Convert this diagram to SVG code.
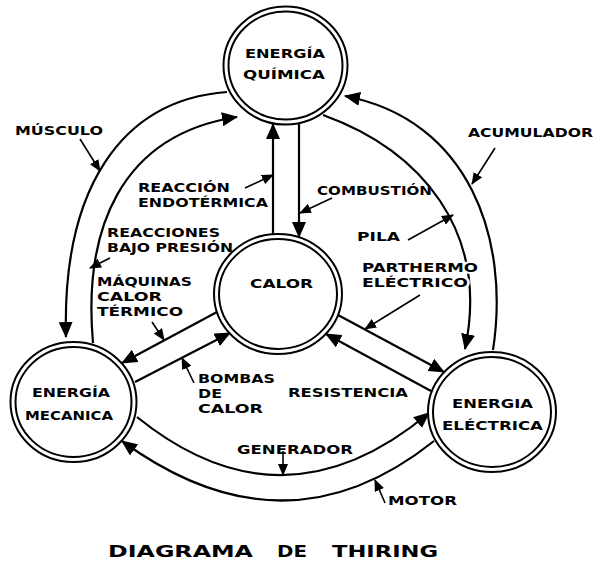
<svg xmlns="http://www.w3.org/2000/svg" width="595" height="562" viewBox="0 0 595 562">
<defs>
<style>
.bg{fill:#fff}
.ring{fill:#fff;stroke:#000;stroke-width:2}
.ln{fill:none;stroke:#000;stroke-width:2.2}
.lbl{fill:none;stroke:#000;stroke-width:1.6}
text{font-family:"DejaVu Sans","Liberation Sans",Arial,sans-serif;font-weight:bold;font-size:13px;fill:#000}
.title{font-size:16.5px}
.halo{paint-order:stroke;stroke:#fff;stroke-width:4px}
</style>
<marker id="ah" viewBox="0 0 16 14" refX="15" refY="7" markerWidth="16" markerHeight="14" markerUnits="userSpaceOnUse" orient="auto"><path d="M0,0 L16,7 L0,14 z" fill="#000"/></marker>
<marker id="as" viewBox="0 0 12 10" refX="11" refY="5" markerWidth="12" markerHeight="10" markerUnits="userSpaceOnUse" orient="auto"><path d="M0,0 L12,5 L0,10 z" fill="#000"/></marker>
</defs>
<rect class="bg" x="0" y="0" width="595" height="562"/>

<g id="connectors">
<path class="ln" d="M227,92 C120,100 62,190 66,337" marker-end="url(#ah)"/>
<path class="ln" d="M93,343 C83,230 120,135 237,117" marker-end="url(#ah)"/>
<path class="ln" d="M493,350 C510,240 470,120 345,96" marker-end="url(#ah)"/>
<path class="ln" d="M323,115 C420,150 490,230 465,349" marker-end="url(#ah)"/>
<path class="ln" d="M273,234 L273,124" marker-end="url(#ah)"/>
<path class="ln" d="M299,123 L299,237" marker-end="url(#ah)"/>
<path class="ln" d="M217,312 L122,363" marker-end="url(#ah)"/>
<path class="ln" d="M135,382 L230,333" marker-end="url(#ah)"/>
<path class="ln" d="M338,315 L444,372" marker-end="url(#ah)"/>
<path class="ln" d="M431,391 L326,334" marker-end="url(#ah)"/>
<path class="ln" d="M137,417 Q283,535 429,413" marker-end="url(#ah)"/>
<path class="ln" d="M434,441 Q285,560 122,441" marker-end="url(#ah)"/>

<path class="lbl" d="M80,139 L100,171" marker-end="url(#as)"/>
<path class="lbl" d="M495,148 L472,184" marker-end="url(#as)"/>
<path class="lbl" d="M245,188 L273,175" marker-end="url(#as)"/>
<path class="lbl" d="M332,198 L300,213" marker-end="url(#as)"/>
<path class="lbl" d="M110,258 L90,268" marker-end="url(#as)"/>
<path class="lbl" d="M408,240 L453,215" marker-end="url(#as)"/>
<path class="lbl" d="M420,295 L365,329" marker-end="url(#as)"/>
<path class="lbl" d="M152,322 L164,340" marker-end="url(#as)"/>
<path class="lbl" d="M194,383 L182,358" marker-end="url(#as)"/>
<path class="lbl" d="M283,451 L283,475" marker-end="url(#as)"/>
<path class="lbl" d="M385,503 L375,480" marker-end="url(#as)"/>
</g>

<g id="quimica">
<ellipse class="ring" cx="285.5" cy="65.5" rx="62" ry="59"/>
<ellipse class="ring" cx="285.5" cy="65.5" rx="57" ry="54"/>
<text x="245" y="58" textLength="80" lengthAdjust="spacingAndGlyphs">ENERGÍA</text>
<text x="243" y="79" textLength="82" lengthAdjust="spacingAndGlyphs">QUÍMICA</text>
</g>

<g id="calor">
<ellipse class="ring" cx="278" cy="294" rx="64" ry="60"/>
<ellipse class="ring" cx="278" cy="294" rx="59" ry="55"/>
<text x="250" y="288" textLength="63" lengthAdjust="spacingAndGlyphs">CALOR</text>
</g>

<g id="mecanica">
<ellipse class="ring" cx="73.5" cy="402" rx="63" ry="60"/>
<ellipse class="ring" cx="73.5" cy="402" rx="58" ry="55"/>
<text x="32" y="397" textLength="78" lengthAdjust="spacingAndGlyphs">ENERGÍA</text>
<text x="25" y="420" textLength="88" lengthAdjust="spacingAndGlyphs">MECANICA</text>
</g>

<g id="electrica">
<ellipse class="ring" cx="492" cy="412" rx="64" ry="60"/>
<ellipse class="ring" cx="492" cy="412" rx="59" ry="55"/>
<text x="452" y="408" textLength="81" lengthAdjust="spacingAndGlyphs">ENERGIA</text>
<text x="442" y="430" textLength="101" lengthAdjust="spacingAndGlyphs">ELÉCTRICA</text>
</g>

<g id="labels">
<text x="15" y="135" textLength="88" lengthAdjust="spacingAndGlyphs">MÚSCULO</text>
<text x="468" y="137" textLength="125" lengthAdjust="spacingAndGlyphs">ACUMULADOR</text>
<text x="138" y="192" textLength="92" lengthAdjust="spacingAndGlyphs">REACCIÓN</text>
<text x="138" y="207" textLength="130" lengthAdjust="spacingAndGlyphs">ENDOTÉRMICA</text>
<text x="317" y="195" textLength="115" lengthAdjust="spacingAndGlyphs">COMBUSTIÓN</text>
<text x="107" y="237" textLength="113" lengthAdjust="spacingAndGlyphs">REACCIONES</text>
<text x="107" y="252" textLength="126" lengthAdjust="spacingAndGlyphs">BAJO PRESIÓN</text>
<text x="357" y="241" textLength="43" lengthAdjust="spacingAndGlyphs">PILA</text>
<text class="halo" x="362" y="272" textLength="116" lengthAdjust="spacingAndGlyphs">PARTHERMO</text>
<text class="halo" x="362" y="287" textLength="106" lengthAdjust="spacingAndGlyphs">ELÉCTRICO</text>
<text x="97" y="286" textLength="95" lengthAdjust="spacingAndGlyphs">MÁQUINAS</text>
<text x="97" y="301" textLength="65" lengthAdjust="spacingAndGlyphs">CALOR</text>
<text x="97" y="316" textLength="86" lengthAdjust="spacingAndGlyphs">TÉRMICO</text>
<text x="198" y="383" textLength="77" lengthAdjust="spacingAndGlyphs">BOMBAS</text>
<text x="198" y="398" textLength="24" lengthAdjust="spacingAndGlyphs">DE</text>
<text x="198" y="413" textLength="65" lengthAdjust="spacingAndGlyphs">CALOR</text>
<text x="288" y="397" textLength="120" lengthAdjust="spacingAndGlyphs">RESISTENCIA</text>
<text x="237" y="454" textLength="116" lengthAdjust="spacingAndGlyphs">GENERADOR</text>
<text x="388" y="505" textLength="69" lengthAdjust="spacingAndGlyphs">MOTOR</text>
<text class="title" y="557"><tspan x="108" textLength="145" lengthAdjust="spacingAndGlyphs">DIAGRAMA</tspan><tspan x="277" textLength="30" lengthAdjust="spacingAndGlyphs">DE</tspan><tspan x="332" textLength="106" lengthAdjust="spacingAndGlyphs">THIRING</tspan></text>
</g>
</svg>
